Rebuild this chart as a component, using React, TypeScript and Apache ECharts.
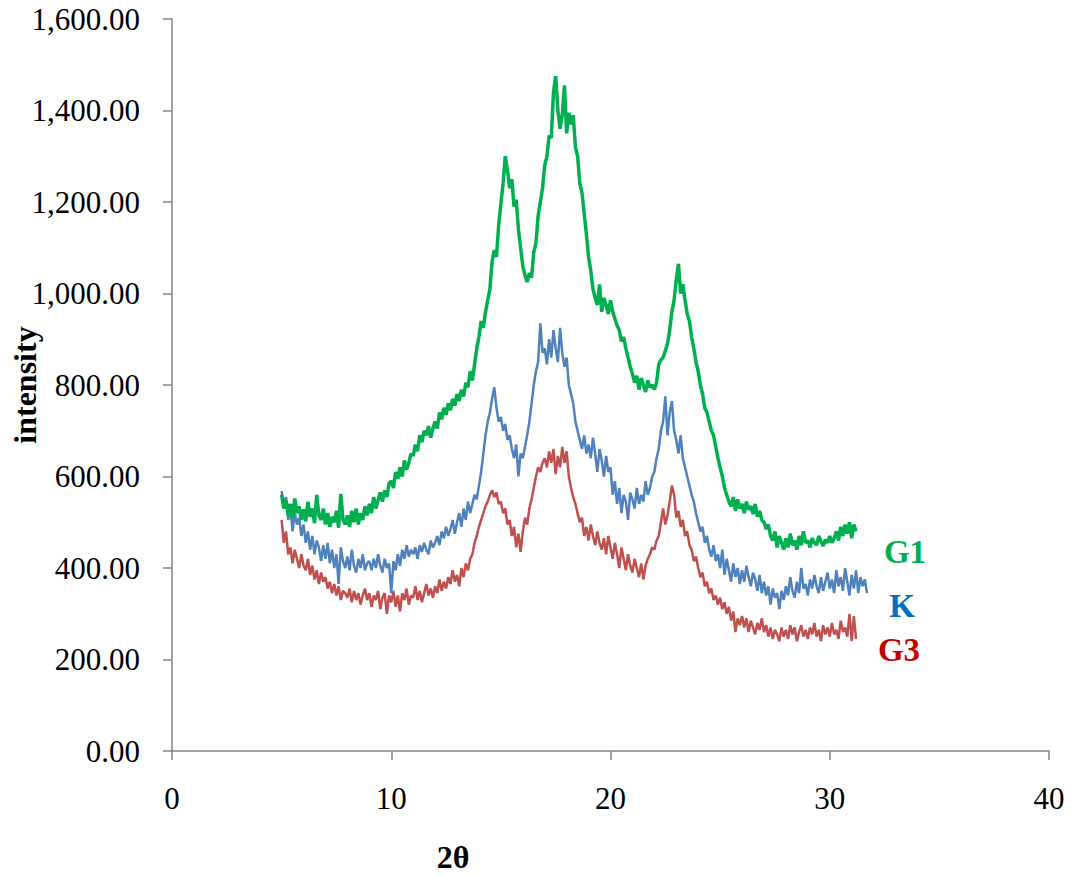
import React, { useEffect, useRef } from "react";
import * as echarts from "echarts";

// 2θ sampling grid (degrees)
const thetaStart = 5.0;
const thetaStep = 0.1;

// G1 intensity (5.0 .. 31.2)
const g1Values = [
  560, 530, 548, 515, 540, 508, 552, 520, 535, 505,
  528, 502, 545, 512, 530, 498, 560, 515, 505, 530,
  495, 520, 490, 512, 500, 525, 488, 562, 505, 495,
  515, 490, 525, 500, 530, 495, 520, 505, 535, 515,
  540, 520, 555, 530, 548, 565, 545, 570, 555, 585,
  590, 575, 610, 595, 620, 600, 635, 615, 630, 650,
  645, 670, 655, 690, 675, 700, 690, 710, 685, 705,
  720, 705, 740, 725, 750, 735, 760, 745, 770, 755,
  780, 765, 790, 775, 805, 795, 830, 810, 845, 880,
  905, 940, 925, 960, 985, 1010, 1070, 1095, 1080, 1150,
  1195, 1240, 1300, 1270, 1230, 1250, 1190, 1205, 1140, 1100,
  1060, 1040, 1025, 1045, 1035, 1090, 1110, 1170, 1200, 1230,
  1280, 1300, 1345, 1340, 1440, 1475, 1400, 1360, 1390, 1455,
  1350, 1395, 1370, 1390, 1320, 1300, 1240, 1220, 1175, 1130,
  1080, 1050, 1010, 990, 975, 1020, 960, 990, 975, 955,
  985, 960, 945, 930, 920, 895, 905, 880, 860, 840,
  825, 805, 820, 790, 815, 800, 785, 810, 795, 800,
  790, 805, 845, 855, 860, 875, 890, 920, 960, 985,
  1030, 1065, 1000, 1020, 985, 955, 940, 905, 880, 850,
  830, 800, 780, 750, 740, 720, 700, 690, 665, 640,
  620, 600, 575, 560, 545, 535, 555, 525, 550, 530,
  540, 520, 545, 528, 535, 518, 540, 512, 525, 505,
  500, 485, 495, 470, 460, 480, 445, 470, 455, 440,
  465, 445, 475, 450, 460, 440, 470, 450, 480, 455,
  460, 445, 465, 455, 450, 470, 458, 448, 462, 455,
  470, 455, 465, 480, 460, 490, 470, 495, 475, 500,
  465, 495, 480,
];

// K intensity (5.0 .. 31.7)
const kValues = [
  568, 540, 555, 505, 530, 480, 520, 495, 510, 470,
  495, 455, 480, 440, 470, 430, 460, 445, 415, 450,
  420, 455, 410, 440, 400, 430, 365, 445, 415, 400,
  425, 395, 440, 405, 390, 420, 400, 430, 395, 410,
  415, 395, 420, 400, 430, 405, 390, 420, 400, 410,
  345, 415, 395, 430, 405, 440, 420, 450, 425, 440,
  430, 445, 420, 450, 435, 455, 440, 430, 460, 445,
  455, 470, 450, 480, 465, 490, 470, 485, 505, 475,
  500, 520, 490, 530, 505, 545, 520, 540, 560, 550,
  580, 610, 650, 690, 720, 740, 770, 795, 750, 720,
  730, 700, 715, 680, 690, 660, 640, 670, 600, 650,
  640, 665, 690, 720, 760, 800, 830, 850, 935, 870,
  880, 845, 900, 860, 920, 880, 850, 925, 870, 840,
  860, 800, 780, 760, 720, 700, 680, 660, 690, 650,
  670, 640, 685, 650, 610, 660, 635, 600, 645, 610,
  620, 560, 590, 540, 575, 520, 560, 545, 505, 565,
  550, 530, 575, 540, 560, 545, 590, 560, 575, 600,
  610, 640, 660, 700, 720, 775, 690, 740, 765, 700,
  680, 650, 690, 640, 620, 600, 580, 560, 545, 520,
  500, 480, 490, 455, 470, 440, 425, 450, 415, 430,
  400, 440, 385, 420, 395, 370, 410, 380, 400, 365,
  395, 370, 405, 380, 360, 390, 375, 350, 385, 345,
  370, 340, 360, 320, 355, 335, 345, 310, 350, 330,
  360, 340, 380, 350, 335, 370, 345, 400, 355, 365,
  340, 375, 355, 385, 360, 345, 380, 350, 370, 390,
  355, 375, 345, 395, 360, 380, 350, 400, 370, 340,
  385, 355, 395, 345, 380, 360, 375, 345,
];

// G3 intensity (5.0 .. 31.2)
const g3Values = [
  505, 455, 480, 430, 445, 410, 440, 420, 400, 430,
  405, 395, 420, 385, 405, 375, 395, 365, 390, 370,
  380, 355, 370, 345, 365, 340, 360, 330, 350, 345,
  335, 355, 325, 350, 330, 345, 320, 340, 355, 330,
  345, 315, 340, 330, 350, 310, 335, 345, 300, 340,
  325, 350, 315, 340, 305, 345, 330, 355, 320, 340,
  335, 360, 330, 350, 325, 345, 365, 340, 355, 335,
  360, 345, 375, 350, 370, 355, 380, 365, 395, 370,
  385, 360, 400, 380, 410, 395, 420, 430, 455, 470,
  490, 505, 520, 535, 545, 560, 570, 555, 565, 540,
  545, 520, 530, 495, 505, 470, 490, 445, 475, 435,
  480, 510, 495, 530, 550, 575, 600, 620, 610, 630,
  640, 620, 655, 630, 660, 605, 645, 620, 665, 630,
  655, 600, 575, 555, 540, 520, 500, 510, 470, 490,
  460, 495, 470, 450, 480, 455, 440, 465, 430, 470,
  445, 420, 455, 430, 400, 445, 420, 395, 430, 405,
  390, 420, 400, 380, 410, 375, 405, 420, 430, 445,
  440, 460, 470, 500, 530, 495, 515, 545, 580, 560,
  510, 525, 490, 505, 470, 480, 450, 440, 415, 425,
  400, 380, 390, 360, 370, 345, 355, 330, 340, 320,
  335, 310, 325, 300, 315, 285, 305, 260, 290, 275,
  295, 270, 290, 260, 285, 270, 255, 280, 265, 290,
  260, 275, 250, 270, 245, 265, 255, 240, 270, 250,
  265, 245, 275, 255, 270, 240, 260, 275, 250, 265,
  245, 270, 255, 280, 250, 265, 240, 275, 255, 270,
  250, 280, 255, 265, 245, 285, 260, 270, 250, 300,
  240, 295, 245,
];

const seriesNames = ["G1", "K", "G3"];
const lineColors = ["#00B050", "#4F81BD", "#C0504D"];
const labelColors = ["#00B050", "#0070C0", "#C00000"];

const xTicks = { min: 0, max: 40, interval: 10 };
const yTicks = { min: 0, max: 1600, interval: 200 };

const toPairs = (vals: number[]) =>
  vals.map((v, i) => [Number((thetaStart + i * thetaStep).toFixed(2)), v]);

const FONT = "'Liberation Serif', 'Times New Roman', serif";

export default function App() {
  const ref = useRef<HTMLDivElement>(null);
  useEffect(() => {
    if (!ref.current) return;
    const chart = echarts.init(ref.current, undefined, { renderer: "svg" });
    const axisColor = "#868686";
    const allValues = [g1Values, kValues, g3Values];
    chart.setOption({
      animation: false,
      backgroundColor: "#ffffff",
      grid: { left: 172, right: 29, top: 19, bottom: 126, containLabel: false },
      xAxis: {
        type: "value",
        min: xTicks.min,
        max: xTicks.max,
        interval: xTicks.interval,
        axisLine: { show: true, lineStyle: { color: axisColor, width: 1.5 } },
        axisTick: { show: true, inside: false, length: 9, lineStyle: { color: axisColor, width: 1.5 } },
        splitLine: { show: false },
        axisLabel: { color: "#000", fontFamily: FONT, fontSize: 31, margin: 32 },
      },
      yAxis: {
        type: "value",
        min: yTicks.min,
        max: yTicks.max,
        interval: yTicks.interval,
        axisLine: { show: true, lineStyle: { color: axisColor, width: 1.5 } },
        axisTick: { show: true, inside: false, length: 9, lineStyle: { color: axisColor, width: 1.5 } },
        splitLine: { show: false },
        axisLabel: {
          color: "#000",
          fontFamily: FONT,
          fontSize: 31,
          margin: 32,
          formatter: (v: number) =>
            v.toLocaleString("en-US", { minimumFractionDigits: 2, maximumFractionDigits: 2 }),
        },
      },
      series: [2, 1, 0].map((k) => ({
        name: seriesNames[k],
        type: "line",
        data: toPairs(allValues[k]),
        showSymbol: false,
        symbol: "none",
        lineStyle: { color: lineColors[k], width: k === 0 ? 3.5 : 2.5 },
        itemStyle: { color: lineColors[k] },
        z: 3 - k,
      })),
      graphic: [
        {
          type: "text",
          x: 25,
          y: 385,
          rotation: Math.PI / 2,
          style: {
            text: "intensity",
            font: `bold 32px ${FONT}`,
            fill: "#000",
            align: "center",
            verticalAlign: "middle",
          },
        },
        {
          type: "text",
          x: 453,
          y: 857,
          style: {
            text: "2θ",
            font: `bold 32px ${FONT}`,
            fill: "#000",
            align: "center",
            verticalAlign: "middle",
          },
        },
        {
          type: "text",
          x: 905,
          y: 552,
          style: { text: seriesNames[0], font: `bold 33px ${FONT}`, fill: labelColors[0], align: "center", verticalAlign: "middle" },
        },
        {
          type: "text",
          x: 902,
          y: 606,
          style: { text: seriesNames[1], font: `bold 33px ${FONT}`, fill: labelColors[1], align: "center", verticalAlign: "middle" },
        },
        {
          type: "text",
          x: 899,
          y: 650,
          style: { text: seriesNames[2], font: `bold 33px ${FONT}`, fill: labelColors[2], align: "center", verticalAlign: "middle" },
        },
      ],
    });
    return () => chart.dispose();
  }, []);
  return (
    <div
      ref={ref}
      style={{ position: "absolute", left: 0, top: 0, width: 1078, height: 877 }}
    />
  );
}
